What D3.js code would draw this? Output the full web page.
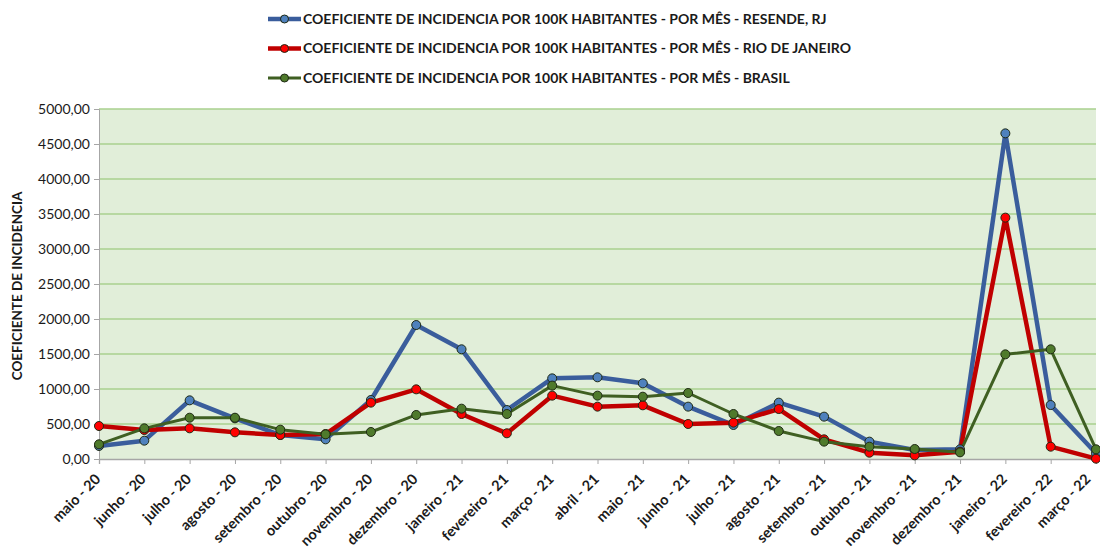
<!DOCTYPE html>
<html>
<head>
<meta charset="utf-8">
<script src="https://cdn.jsdelivr.net/npm/d3@7"></script>
<style>
  body { margin: 0; background: #fff; }
  text { font-family: "Lato", "Open Sans", sans-serif; fill: #1a1a1a; }
</style>
</head>
<body>
<svg width="1100" height="549"></svg>
<script>
var months = ["maio - 20", "junho - 20", "julho - 20", "agosto - 20", "setembro - 20", "outubro - 20",
  "novembro - 20", "dezembro - 20", "janeiro - 21", "fevereiro - 21", "março - 21", "abril - 21",
  "maio - 21", "junho - 21", "julho - 21", "agosto - 21", "setembro - 21", "outubro - 21",
  "novembro - 21", "dezembro - 21", "janeiro - 22", "fevereiro - 22", "março - 22"];

var resende = [186, 262, 838, 581, 343, 281, 843, 1914, 1567, 700, 1152, 1167,
  1081, 748, 486, 805, 605, 248, 129, 138, 4652, 771, 81];

var rioDeJaneiro = [471, 414, 438, 381, 343, 357, 805, 995, 643, 367, 905, 748,
  767, 500, 519, 714, 281, 90, 52, 105, 3448, 176, 5];

var brasil = [210, 438, 590, 590, 419, 352, 386, 629, 719, 643, 1048, 905,
  890, 943, 643, 400, 248, 176, 143, 95, 1495, 1567, 138];

var yTicks = [0, 500, 1000, 1500, 2000, 2500, 3000, 3500, 4000, 4500, 5000];

var series = [
  { name: "COEFICIENTE DE INCIDENCIA POR 100K HABITANTES - POR MÊS - RESENDE, RJ", values: resende,
    line: "#3a5d9c", fill: "#4f81bd", width: 4.5 },
  { name: "COEFICIENTE DE INCIDENCIA POR 100K HABITANTES - POR MÊS - RIO DE JANEIRO", values: rioDeJaneiro,
    line: "#c00000", fill: "#ff0000", width: 4.5 },
  { name: "COEFICIENTE DE INCIDENCIA POR 100K HABITANTES - POR MÊS - BRASIL", values: brasil,
    line: "#3f5f22", fill: "#4f7a2c", width: 3 }
];

var svg = d3.select("svg"),
    pLeft = 99, pRight = 1096, pTop = 109, pBottom = 459;

var x = d3.scalePoint().domain(months).range([pLeft, pRight]).padding(0);
var y = d3.scaleLinear().domain([0, 5000]).range([pBottom, pTop]);
var fmt = function(d) { return d3.format(".2f")(d).replace(".", ","); };

// plot area
svg.append("rect")
    .attr("x", pLeft).attr("y", pTop)
    .attr("width", pRight - pLeft).attr("height", pBottom - pTop)
    .attr("fill", "#e1eed9");

// gridlines
svg.append("g")
    .selectAll("line")
    .data(yTicks.slice(1))
    .enter().append("line")
      .attr("x1", pLeft).attr("x2", pRight)
      .attr("y1", function(d) { return y(d); })
      .attr("y2", function(d) { return y(d); })
      .attr("stroke", "#a9d18e")
      .attr("stroke-width", 1.3);

// y axis
var yAxis = svg.append("g")
    .attr("transform", "translate(" + pLeft + ",0)")
    .call(d3.axisLeft(y).tickValues(yTicks).tickFormat(fmt).tickSize(5).tickPadding(4));
yAxis.select(".domain").attr("stroke", "#a6a6a6");
yAxis.selectAll(".tick line").attr("stroke", "#a6a6a6");
yAxis.selectAll(".tick text")
    .attr("font-size", "14px")
    .attr("font-family", "Lato, sans-serif")
    .attr("fill", "#1a1a1a");

// x axis
var xAxis = svg.append("g")
    .attr("transform", "translate(0," + pBottom + ")")
    .call(d3.axisBottom(x).tickSize(5));
xAxis.select(".domain").attr("stroke", "#a6a6a6").attr("stroke-width", 1.3);
xAxis.selectAll(".tick line").attr("stroke", "#a6a6a6");
xAxis.selectAll(".tick text")
    .attr("font-size", "14.5px")
    .attr("font-weight", "bold")
    .attr("font-family", "Lato, sans-serif")
    .attr("fill", "#1a1a1a")
    .attr("text-anchor", "end")
    .attr("x", 0).attr("y", 0).attr("dy", 0)
    .attr("transform", function(d, i) {
      // last label would run past the right edge
      return i === months.length - 1 ? "translate(-5,21) rotate(-45)" : "translate(2,21) rotate(-45)";
    });

// y title
svg.append("text")
    .attr("transform", "translate(22," + ((pTop + pBottom) / 2 + 2) + ") rotate(-90)")
    .attr("text-anchor", "middle")
    .attr("font-size", "13.5px")
    .attr("font-weight", "bold")
    .text("COEFICIENTE DE INCIDENCIA");

// lines and markers
var line = d3.line()
    .x(function(d, i) { return x(months[i]); })
    .y(function(d) { return y(d); });

series.forEach(function(s) {
  svg.append("path")
      .datum(s.values)
      .attr("d", line)
      .attr("fill", "none")
      .attr("stroke", s.line)
      .attr("stroke-width", s.width)
      .attr("stroke-linejoin", "round");
});

series.forEach(function(s) {
  svg.append("g")
    .selectAll("circle")
    .data(s.values)
    .enter().append("circle")
      .attr("cx", function(d, i) { return x(months[i]); })
      .attr("cy", function(d) { return y(d); })
      .attr("r", 4.5)
      .attr("fill", s.fill)
      .attr("stroke", "#1f2a14")
      .attr("stroke-width", 1);
});

// legend
var legend = svg.append("g")
    .selectAll("g")
    .data(series)
    .enter().append("g")
      .attr("transform", function(d, i) { return "translate(268," + (19 + i * 29.5) + ")"; });

legend.append("line")
    .attr("x1", 0).attr("x2", 33)
    .attr("stroke", function(d) { return d.line; })
    .attr("stroke-width", function(d) { return d.width; });
legend.append("circle")
    .attr("cx", 16.5).attr("r", 4)
    .attr("fill", function(d) { return d.fill; })
    .attr("stroke", "#1f2a14");
legend.append("text")
    .attr("x", 35).attr("dy", "0.35em")
    .attr("font-size", "14px")
    .attr("font-weight", "bold")
    .text(function(d) { return d.name; });
</script>
</body>
</html>
